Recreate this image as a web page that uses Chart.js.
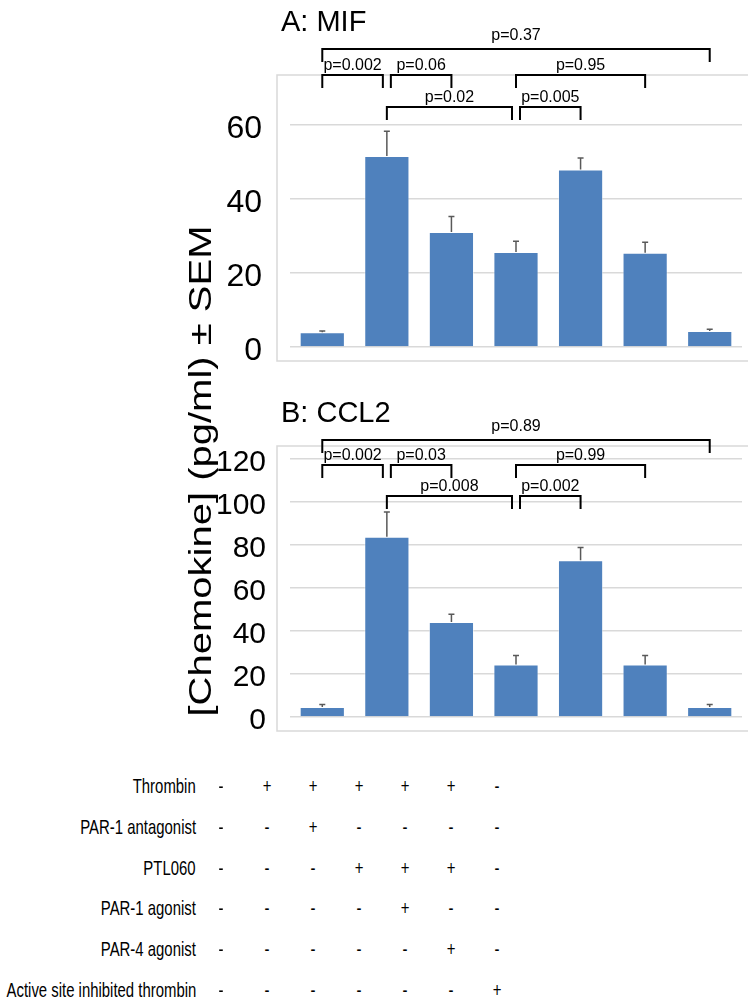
<!DOCTYPE html>
<html>
<head>
<meta charset="utf-8">
<script src="https://cdn.jsdelivr.net/npm/chart.js@4/dist/chart.umd.min.js"></script>
<style>
  html, body { margin: 0; padding: 0; background: #fff; }
  #page { position: relative; width: 748px; height: 1002px; overflow: hidden; font-family: 'Liberation Sans', Arial, sans-serif; color: #000; }
  canvas { position: absolute; left: 0; }
  .ytitle { position: absolute; left: 200px; top: 471px; font-size: 32px; line-height: 36px; white-space: nowrap;
            transform: translate(-50%, -50%) rotate(-90deg) scaleX(1.25); }
  .cell { position: absolute; font-size: 21px; line-height: 24px; white-space: nowrap; }
</style>
</head>
<body>
<div id="page">
  <canvas id="mifChart" width="748" height="380" style="top:0"></canvas>
  <canvas id="ccl2Chart" width="748" height="360" style="top:380px"></canvas>
  <div class="ytitle">[Chemokine] (pg/ml) ± SEM</div>
  <div id="table"></div>
</div>
<script>
// Treatment groups (one bar per group)
const groups = ['Control', 'Thrombin', 'Thrombin + PAR-1 antagonist', 'Thrombin + PTL060',
  'Thrombin + PTL060 + PAR-1 agonist', 'Thrombin + PTL060 + PAR-4 agonist', 'Active site inhibited thrombin'];

// A: MIF
const mifMeans = [4.0, 51.6, 31.1, 25.7, 48.0, 25.5, 4.3];
const mifSem = [0.3, 6.7, 4.2, 2.9, 3.1, 2.8, 0.5];
const mifTicks = [0, 20, 40, 60];
// [from group, to group, label, row]
const mifBrackets = [
  [0, 6, 'p=0.37', 0],
  [0, 1, 'p=0.002', 1], [1, 2, 'p=0.06', 1], [3, 5, 'p=0.95', 1],
  [1, 3, 'p=0.02', 2], [3, 4, 'p=0.005', 2]
];

// B: CCL2
const ccl2Means = [4.6, 83.8, 44.2, 24.4, 72.9, 24.4, 4.6];
const ccl2Sem = [1.2, 11.6, 3.6, 4.2, 5.9, 4.2, 1.2];
const ccl2Ticks = [0, 20, 40, 60, 80, 100, 120];
const ccl2Brackets = [
  [0, 6, 'p=0.89', 0],
  [0, 1, 'p=0.002', 1], [1, 2, 'p=0.03', 1], [3, 5, 'p=0.99', 1],
  [1, 3, 'p=0.008', 2], [3, 4, 'p=0.002', 2]
];

// Treatment table
const tableRows = ['Thrombin', 'PAR-1 antagonist', 'PTL060', 'PAR-1 agonist', 'PAR-4 agonist', 'Active site inhibited thrombin'];
const tableSigns = [
  ['-', '+', '+', '+', '+', '+', '-'],
  ['-', '-', '+', '-', '-', '-', '-'],
  ['-', '-', '-', '+', '+', '+', '-'],
  ['-', '-', '-', '-', '+', '-', '-'],
  ['-', '-', '-', '-', '-', '+', '-'],
  ['-', '-', '-', '-', '-', '-', '+']
];

const FONT = "'Liberation Sans', Arial, sans-serif";
const BLUE = '#4f81bd';

// error bars, brackets, plot frame and panel title
const annotate = {
  id: 'annotate',
  afterDraw(chart, args, o) {
    const ctx = chart.ctx;
    const area = chart.chartArea;
    const y = chart.scales.y;
    const bars = chart.getDatasetMeta(0).data;
    ctx.save();

    // plot frame
    ctx.strokeStyle = '#d9d9d9';
    ctx.lineWidth = 1.5;
    ctx.beginPath();
    ctx.moveTo(chart.width, area.top - 13);
    ctx.lineTo(area.left - 13, area.top - 13);
    ctx.lineTo(area.left - 13, area.bottom + 14);
    ctx.lineTo(chart.width, area.bottom + 14);
    ctx.stroke();

    // error bars (upper only)
    ctx.strokeStyle = '#595959';
    ctx.lineWidth = 1.5;
    bars.forEach((bar, i) => {
      const top = y.getPixelForValue(o.means[i] + o.sem[i]);
      ctx.beginPath();
      ctx.moveTo(bar.x, bar.y);
      ctx.lineTo(bar.x, top);
      ctx.moveTo(bar.x - 3, top);
      ctx.lineTo(bar.x + 3, top);
      ctx.stroke();
    });

    // significance brackets
    ctx.strokeStyle = '#000';
    ctx.fillStyle = '#000';
    ctx.lineWidth = 2;
    ctx.font = '16px ' + FONT;
    ctx.textAlign = 'center';
    ctx.textBaseline = 'alphabetic';
    o.brackets.forEach(([a, b, label, row]) => {
      const same = o.brackets.filter(q => q[3] === row);
      let x1 = bars[a].x, x2 = bars[b].x;
      if (same.some(q => q[1] === a)) x1 += 4;
      if (same.some(q => q[0] === b)) x2 -= 4;
      const ly = o.rows[row];
      ctx.beginPath();
      ctx.moveTo(x1, ly + 13);
      ctx.lineTo(x1, ly);
      ctx.lineTo(x2, ly);
      ctx.lineTo(x2, ly + 13);
      ctx.stroke();
      ctx.fillText(label, (x1 + x2) / 2, ly - (row === 0 ? 9 : 5));
    });

    // panel title
    ctx.font = '29px ' + FONT;
    ctx.textAlign = 'left';
    ctx.fillText(o.title, 281, o.titleY);
    ctx.restore();
  }
};

function makeChart(id, means, sem, ticks, yMax, step, tickSize, tickPad, pad, extra) {
  return new Chart(document.getElementById(id), {
    type: 'bar',
    data: {
      labels: groups,
      datasets: [{
        data: means,
        backgroundColor: BLUE,
        borderColor: 'rgba(255,255,255,0.45)',
        borderWidth: 1,
        barPercentage: 0.7,
        categoryPercentage: 1
      }]
    },
    options: {
      responsive: false,
      animation: false,
      devicePixelRatio: 1,
      layout: { padding: pad },
      scales: {
        x: { display: false },
        y: {
          min: 0,
          max: yMax,
          afterFit: s => { s.width = 290; s.paddingTop = 0; s.paddingBottom = 0; },
          border: { display: false },
          grid: { color: '#d9d9d9', lineWidth: 1.5, drawTicks: false },
          ticks: {
            stepSize: step,
            padding: tickPad,
            labelOffset: 4,
            color: '#000',
            font: { family: FONT, size: tickSize },
            callback: v => ticks.includes(v) ? v : ''
          }
        }
      },
      plugins: {
        legend: { display: false },
        tooltip: { enabled: false },
        annotate: Object.assign({ means, sem }, extra)
      }
    },
    plugins: [annotate]
  });
}

makeChart('mifChart', mifMeans, mifSem, mifTicks, 70, 10, 32, 28,
  { top: 88, bottom: 33, left: 0, right: 6 },
  { brackets: mifBrackets, rows: [49, 75, 107], title: 'A: MIF', titleY: 31 });

makeChart('ccl2Chart', ccl2Means, ccl2Sem, ccl2Ticks, 120, 20, 30, 24,
  { top: 79, bottom: 23, left: 0, right: 6 },
  { brackets: ccl2Brackets, rows: [60, 85, 116], title: 'B: CCL2', titleY: 42 });

// treatment table below the charts
const table = document.getElementById('table');
tableRows.forEach((name, r) => {
  const rowY = 786 + r * 40.8;
  const lab = document.createElement('div');
  lab.className = 'cell';
  lab.textContent = name;
  lab.style.right = (748 - 196) + 'px';
  lab.style.top = (rowY - 12) + 'px';
  lab.style.transform = 'scaleX(0.71)';
  lab.style.transformOrigin = 'right center';
  table.appendChild(lab);
  tableSigns[r].forEach((s, c) => {
    const d = document.createElement('div');
    d.className = 'cell';
    d.textContent = s;
    d.style.left = (221 + c * 46) + 'px';
    d.style.top = (rowY - 12) + 'px';
    d.style.transform = 'translateX(-50%) scaleX(0.71)';
    table.appendChild(d);
  });
});
</script>
</body>
</html>
